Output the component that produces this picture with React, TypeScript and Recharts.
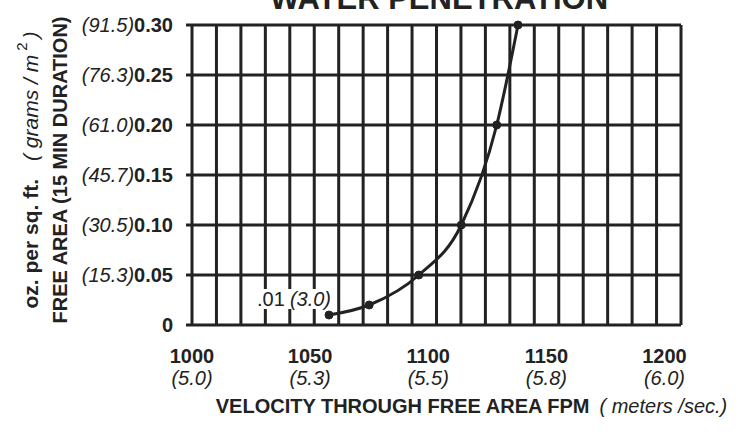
import { LineChart, Line, XAxis, YAxis, CartesianGrid } from 'recharts';

// velocity through free area (FPM) vs. water penetration (oz. per sq. ft.)
const velocityFpm = [1058, 1075, 1096, 1114, 1129, 1138];
const ozPerSqFt = [0.01, 0.02, 0.05, 0.1, 0.2, 0.3];

const xTicks = [1000, 1050, 1100, 1150, 1200];
const xTickMetric = ['(5.0)', '(5.3)', '(5.5)', '(5.8)', '(6.0)'];
const yTicks = [0, 0.05, 0.1, 0.15, 0.2, 0.25, 0.3];
const yTickMetric = ['', '(15.3)', '(30.5)', '(45.7)', '(61.0)', '(76.3)', '(91.5)'];
const gridColumns = [0, 1, 2, 3, 4, 5, 6, 7, 8, 9, 10, 11, 12, 13, 14, 15, 16, 17, 18, 19, 20];
const firstPointLabel = ['.01', '(3.0)'];

const data = velocityFpm.map((v, i) => ({ fpm: v, oz: ozPerSqFt[i] }));

const INK = '#222';
const FONT = '"Liberation Sans", Arial, sans-serif';

function XTick({ x, y, payload }: any) {
  const i = xTicks.indexOf(payload.value);
  return (
    <g transform={`translate(${x},${y})`} fontFamily={FONT} fill={INK}>
      <text textAnchor="middle" y={38} fontSize={20} fontWeight="bold" fill={INK}>
        {payload.value}
      </text>
      <text textAnchor="middle" y={60} fontSize={20} fontStyle="italic" fill={INK}>
        {xTickMetric[i]}
      </text>
    </g>
  );
}

function YTick({ x, y, payload }: any) {
  const i = yTicks.indexOf(payload.value);
  const v = payload.value === 0 ? '0' : payload.value.toFixed(2);
  return (
    <text x={x} y={y} dy={7} textAnchor="end" fontFamily={FONT} fontSize={20} fill={INK}>
      <tspan fontStyle="italic">{yTickMetric[i]}</tspan>
      <tspan fontWeight="bold">{v}</tspan>
    </text>
  );
}

function XTitle({ viewBox }: any) {
  const cx = viewBox.x + viewBox.width / 2 + 35;
  return (
    <text x={cx} y={413} textAnchor="middle" fontFamily={FONT} fontSize={20} fill={INK}>
      <tspan fontWeight="bold">VELOCITY THROUGH FREE AREA FPM</tspan>
      <tspan fontStyle="italic" dx={10}>( meters /sec.)</tspan>
    </text>
  );
}

function YTitle({ viewBox }: any) {
  const cy = viewBox.y + viewBox.height / 2 - 5;
  return (
    <g fontFamily={FONT} fill={INK}>
      <text
        transform={`translate(30,${cy}) rotate(-90)`}
        textAnchor="middle"
        dominantBaseline="central"
        fontSize={21}
      >
        <tspan fontWeight="bold">oz. per sq. ft.</tspan>
        <tspan fontStyle="italic" dx={18}>( grams / m</tspan>
        <tspan fontSize={15} dy={-9} dx={4}>2</tspan>
        <tspan fontStyle="italic" dy={9} dx={4}>)</tspan>
      </text>
      <text
        transform={`translate(60,${cy}) rotate(-90)`}
        textAnchor="middle"
        dominantBaseline="central"
        fontSize={20}
        fontWeight="bold"
      >
        FREE AREA (15 MIN DURATION)
      </text>
    </g>
  );
}

function PointLabel({ x, y, index }: any) {
  if (index !== 0) return null;
  return (
    <g>
      <rect x={x - 80} y={y - 26} width={83} height={20} fill="#fff" />
      <text x={x + 2} y={y - 9} textAnchor="end" fontFamily={FONT} fontSize={20} fill={INK}>
        <tspan>{firstPointLabel[0]}</tspan>
        <tspan fontStyle="italic" dx={5}>{firstPointLabel[1]}</tspan>
      </text>
    </g>
  );
}

export default function App() {
  return (
    <div style={{ position: 'absolute', left: 0, top: 0, width: 750, height: 432, background: '#fff' }}>
      <svg width={750} height={30} style={{ position: 'absolute', left: 0, top: 0, zIndex: 1 }}>
        <text x={439} y={9} textAnchor="middle" fontFamily={FONT} fontSize={31} fontWeight="bold" fill={INK}>
          WATER PENETRATION
        </text>
      </svg>
      <LineChart width={750} height={432} data={data} margin={{ top: 25, right: 69, bottom: 0, left: 0 }}>
        <CartesianGrid xAxisId="grid" stroke={INK} strokeWidth={3} />
        {/* 20 equal grid columns, independent of the FPM labels */}
        <XAxis
          xAxisId="grid"
          dataKey="fpm"
          type="number"
          domain={[0, 20]}
          allowDataOverflow
          ticks={gridColumns}
          interval={0}
          hide
        />
        <XAxis
          dataKey="fpm"
          type="number"
          domain={[1000, 1207]}
          ticks={xTicks}
          interval={0}
          axisLine={false}
          tickLine={false}
          tickSize={0}
          tickMargin={0}
          height={107}
          tick={<XTick />}
          label={<XTitle />}
        />
        <YAxis
          type="number"
          domain={[0, 0.3]}
          ticks={yTicks}
          interval={0}
          width={192}
          axisLine={false}
          tickLine={{ stroke: INK, strokeWidth: 3 }}
          tickSize={6}
          tickMargin={13}
          tick={<YTick />}
          label={<YTitle />}
        />
        <Line
          type="monotone"
          dataKey="oz"
          stroke={INK}
          strokeWidth={3}
          dot={{ r: 4, fill: INK, stroke: INK, strokeWidth: 1 }}
          label={<PointLabel />}
          isAnimationActive={false}
        />
      </LineChart>
    </div>
  );
}
